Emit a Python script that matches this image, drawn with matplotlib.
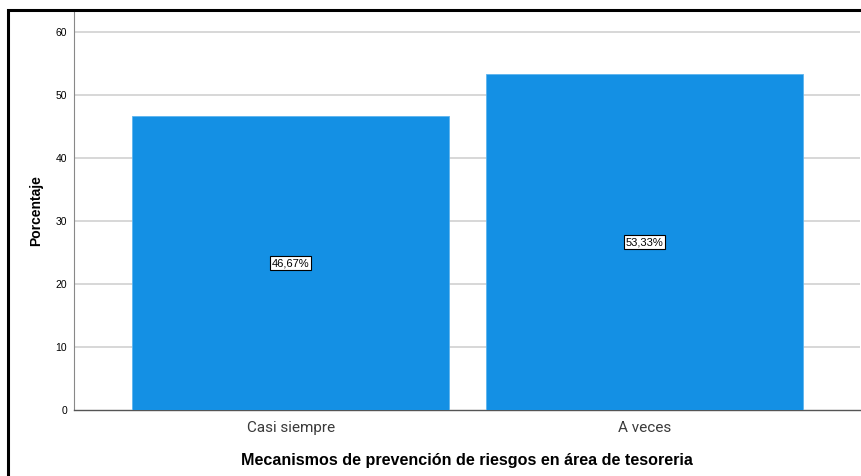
import matplotlib.pyplot as plt
from matplotlib.patches import Rectangle

categorias = ['Casi siempre', 'A veces']
porcentajes = [46.67, 53.33]
etiquetas = ['46,67%', '53,33%']
y_ticks = [0, 10, 20, 30, 40, 50, 60]

plt.rcParams['font.family'] = ['Liberation Sans', 'DejaVu Sans']

fig = plt.figure(figsize=(8.61, 4.76), dpi=100)
ax = fig.add_axes([74 / 861, 1 - 410 / 476, 786 / 861, 398 / 476])

# marco exterior
fig.patches.append(Rectangle((8 / 861, -0.05), 1.0, 1 - 10 / 476 + 0.05,
                             transform=fig.transFigure, fill=False,
                             edgecolor='black', linewidth=2.2))

x = list(range(len(categorias)))
ax.bar(x, porcentajes, width=0.895, color='#1490e4', edgecolor='#5db4ee',
       linewidth=0.6, zorder=3)

for xi, v, txt in zip(x, porcentajes, etiquetas):
    ax.text(xi, v / 2, txt, ha='center', va='center', fontsize=8,
            zorder=4,
            bbox=dict(boxstyle='square,pad=0.15', facecolor='white',
                      edgecolor='black', linewidth=0.8))

ax.set_xlim(-0.612, 1.609)
ax.set_ylim(0, 63.2)
ax.set_yticks(y_ticks)
ax.set_yticklabels([str(t) for t in y_ticks], fontsize=7.5)
ax.set_xticks(x)
ax.set_xticklabels(categorias, fontsize=11, color='#3a3a3a', family='Roboto')
ax.tick_params(axis='both', length=0, pad=5)
ax.tick_params(axis='x', pad=8)

for t in y_ticks[1:]:
    ax.axhline(t, color='#d4d4d4', linewidth=1.3, zorder=1)

for side in ['top', 'right']:
    ax.spines[side].set_visible(False)
ax.spines['left'].set_color('#888888')
ax.spines['bottom'].set_color('#555555')
ax.spines['bottom'].set_linewidth(1.0)

ax.set_ylabel('Porcentaje', fontsize=10, fontweight='bold', labelpad=9)
ax.set_xlabel('Mecanismos de prevención de riesgos en área de tesoreria',
              fontsize=11.6, fontweight='bold', labelpad=13)

fig.savefig('out.png', dpi=100)
